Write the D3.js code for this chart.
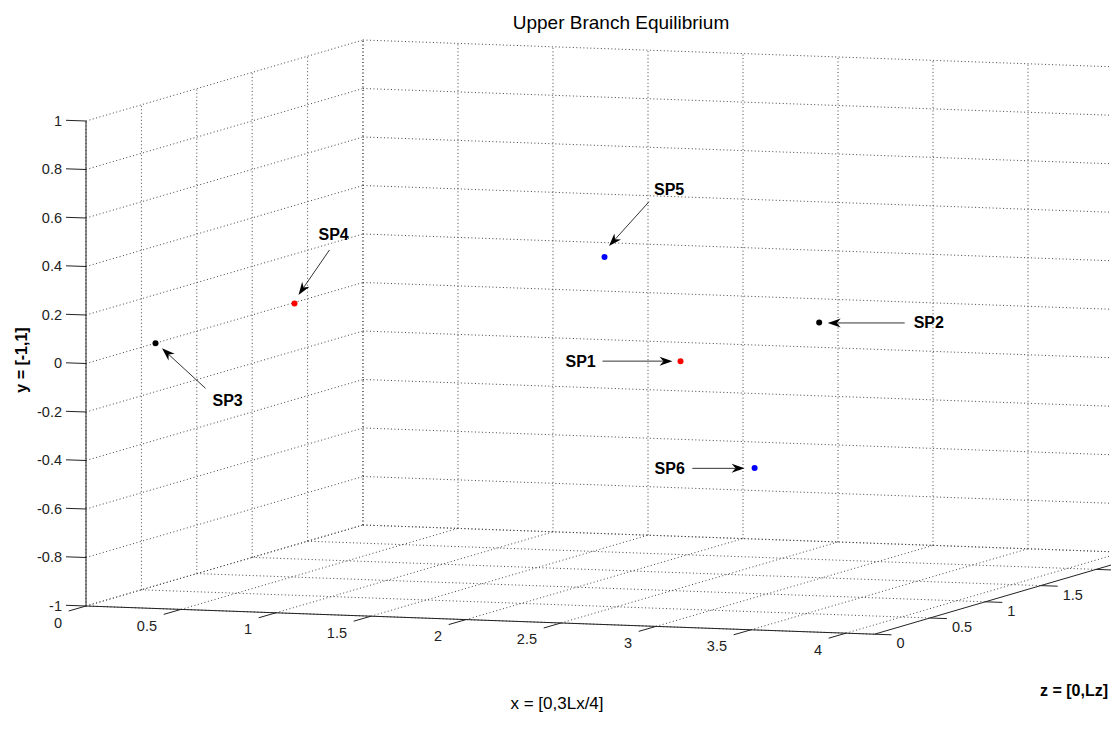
<!DOCTYPE html>
<html>
<head>
<meta charset="utf-8">
<script src="https://cdn.jsdelivr.net/npm/d3@7"></script>
<style>
  html, body { margin: 0; padding: 0; background: #fff; }
  svg { display: block; font-family: "Liberation Sans", Arial, Helvetica, sans-serif; }
</style>
</head>
<body>
<script>
// Stationary points of the upper branch, plotted in (x, y, z)
const pointNames = ["SP1", "SP2", "SP3", "SP4", "SP5", "SP6"];
const pointX = [2.40, 3.13, 0.22, 0.66, 2.00, 2.79];
const pointY = [-0.09, 0.09, 0.056, 0.166, 0.328, -0.52];
const pointZ = [1.25, 1.25, 0.25, 0.75, 1.25, 1.25];

// Axis limits and ticks
const xLimits = [0, 4.15];
const yLimits = [-1, 1];
const zLimits = [0, 2.5];
const xTicks = [0, 0.5, 1, 1.5, 2, 2.5, 3, 3.5, 4];
const yTicks = [-1, -0.8, -0.6, -0.4, -0.2, 0, 0.2, 0.4, 0.6, 0.8, 1];
const zTicks = [0, 0.5, 1, 1.5, 2, 2.5];
const xTickLabels = ["0", "0.5", "1", "1.5", "2", "2.5", "3", "3.5", "4"];
const yTickLabels = ["-1", "-0.8", "-0.6", "-0.4", "-0.2", "0", "0.2", "0.4", "0.6", "0.8", "1"];
const zTickLabels = ["0", "0.5", "1", "1.5", "2", "2.5"];

// Marker colours per point
const pointColor = { SP1: "#ff0000", SP2: "#000000", SP3: "#000000", SP4: "#ff0000", SP5: "#0000ff", SP6: "#0000ff" };

// Label / arrow placement in screen pixels, relative to each marker
const annot = {
  SP1: { label: [-115, 0],   from: [-78, 0],      to: [-8, 0] },
  SP2: { label: [94.5, 0.5], from: [85.5, 0.5],   to: [8.5, 0.5] },
  SP3: { label: [57, 57],    from: [50, 45],      to: [6.5, 5] },
  SP4: { label: [24, -68.5], from: [35, -53.5],   to: [4, -8.5] },
  SP5: { label: [49.5, -68], from: [44.5, -55.3], to: [4.5, -11] },
  SP6: { label: [-100, 0.3], from: [-62.3, 0.3],  to: [-10, 0.3] }
};

const W = 1111, H = 738;
const svg = d3.select("body").append("svg").attr("width", W).attr("height", H);

// Orthographic view: corner (x0, y0, z0) on screen and the screen vectors of the three box edges
const origin = [86, 606];
const edgeX = [788.5, 28.2];
const edgeY = [0, -485];
const edgeZ = [277, -81];

const fx = d3.scaleLinear().domain(xLimits).range([0, 1]);
const fy = d3.scaleLinear().domain(yLimits).range([0, 1]);
const fz = d3.scaleLinear().domain(zLimits).range([0, 1]);

function P(x, y, z) {
  const a = fx(x), b = fy(y), c = fz(z);
  return [origin[0] + a * edgeX[0] + b * edgeY[0] + c * edgeZ[0],
          origin[1] + a * edgeX[1] + b * edgeY[1] + c * edgeZ[1]];
}
const line = d3.line();

const [x0, x1] = xLimits, [y0, y1] = yLimits, [z0, z1] = zLimits;

// Dotted grid on the three back planes
const gridSegs = [];
xTicks.forEach(x => { gridSegs.push([P(x, y0, z0), P(x, y0, z1)]); gridSegs.push([P(x, y0, z1), P(x, y1, z1)]); });
zTicks.forEach(z => { gridSegs.push([P(x0, y0, z), P(x1, y0, z)]); gridSegs.push([P(x0, y0, z), P(x0, y1, z)]); });
yTicks.forEach(y => { gridSegs.push([P(x0, y, z0), P(x0, y, z1)]); gridSegs.push([P(x0, y, z1), P(x1, y, z1)]); });

svg.append("g")
  .selectAll("path").data(gridSegs).join("path")
  .attr("d", d => line(d))
  .attr("fill", "none")
  .attr("stroke", "#444")
  .attr("stroke-width", 1)
  .attr("stroke-dasharray", "1,2.5");

// Axis lines
const axisG = svg.append("g").attr("stroke", "#222").attr("stroke-width", 1).attr("fill", "none");
axisG.append("path").attr("d", line([P(x0, y0, z0), P(x0, y1, z0)]));
axisG.append("path").attr("d", line([P(x0, y0, z0), P(x1, y0, z0)]));
axisG.append("path").attr("d", line([P(x1, y0, z0), P(x1, y0, z1)]));

// Tick marks
const tickX = [-17.3, 5.0];   // toward -z
const tickY = [-20, -0.7];    // toward -x
const tickZ = [17, 0.6];      // toward +x
function tickPath(p, v) { return line([p, [p[0] + v[0], p[1] + v[1]]]); }

xTicks.forEach(x => axisG.append("path").attr("d", tickPath(P(x, y0, z0), tickX)));
yTicks.forEach(y => axisG.append("path").attr("d", tickPath(P(x0, y, z0), tickY)));
zTicks.forEach(z => axisG.append("path").attr("d", tickPath(P(x1, y0, z), tickZ)));

// Tick labels (labels that would land beyond the right edge of the figure are skipped)
const tl = svg.append("g").attr("font-size", 14.5).attr("fill", "#222");
xTicks.forEach((x, i) => {
  const p = P(x, y0, z0);
  tl.append("text").attr("x", p[0] - 24).attr("y", p[1] + 16.5)
    .attr("text-anchor", "end").attr("dominant-baseline", "central").text(xTickLabels[i]);
});
yTicks.forEach((y, i) => {
  const p = P(x0, y, z0);
  tl.append("text").attr("x", p[0] - 24).attr("y", p[1] - 0.5)
    .attr("text-anchor", "end").attr("dominant-baseline", "central").text(yTickLabels[i]);
});
zTicks.forEach((z, i) => {
  const p = P(x1, y0, z);
  if (p[0] + 22 + 24 > W) return;
  tl.append("text").attr("x", p[0] + 22).attr("y", p[1] + 9)
    .attr("text-anchor", "start").attr("dominant-baseline", "central").text(zTickLabels[i]);
});

// Title and axis labels
svg.append("text").attr("x", 621).attr("y", 22).attr("text-anchor", "middle")
  .attr("dominant-baseline", "central").attr("font-size", 19).attr("fill", "#000")
  .text("Upper Branch Equilibrium");
svg.append("text").attr("x", 557).attr("y", 703).attr("text-anchor", "middle")
  .attr("dominant-baseline", "central").attr("font-size", 17).attr("fill", "#000")
  .text("x = [0,3Lx/4]");
svg.append("text").attr("x", 1108).attr("y", 690).attr("text-anchor", "end")
  .attr("dominant-baseline", "central").attr("font-size", 16).attr("font-weight", "bold").attr("fill", "#000")
  .text("z = [0,Lz]");
svg.append("text").attr("transform", "translate(21,360) rotate(-90)").attr("text-anchor", "middle")
  .attr("dominant-baseline", "central").attr("font-size", 16).attr("font-weight", "bold").attr("fill", "#000")
  .text("y = [-1,1]");

// Points
const pts = pointNames.map((n, i) => ({ name: n, p: P(pointX[i], pointY[i], pointZ[i]) }));

svg.append("g").selectAll("circle").data(pts).join("circle")
  .attr("cx", d => d.p[0]).attr("cy", d => d.p[1]).attr("r", 3)
  .attr("fill", d => pointColor[d.name]);

// Annotation arrows
const ann = svg.append("g");
pts.forEach(d => {
  const a = annot[d.name];
  const s = [d.p[0] + a.from[0], d.p[1] + a.from[1]];
  const t = [d.p[0] + a.to[0], d.p[1] + a.to[1]];
  const ang = Math.atan2(t[1] - s[1], t[0] - s[0]);
  const hl = 13, hw = 4.5, notch = 4;
  const ux = Math.cos(ang), uy = Math.sin(ang);
  const bx = t[0] - ux * hl, by = t[1] - uy * hl;
  const nx = t[0] - ux * (hl - notch), ny = t[1] - uy * (hl - notch);
  ann.append("path").attr("d", line([s, [nx, ny]])).attr("stroke", "#000").attr("stroke-width", 0.8);
  ann.append("path")
    .attr("d", line([t, [bx - uy * hw, by + ux * hw], [nx, ny], [bx + uy * hw, by - ux * hw]]) + "Z")
    .attr("fill", "#000");
  ann.append("text").attr("x", d.p[0] + a.label[0]).attr("y", d.p[1] + a.label[1])
    .attr("dominant-baseline", "central").attr("font-size", 16).attr("font-weight", "bold")
    .text(d.name);
});
</script>
</body>
</html>
